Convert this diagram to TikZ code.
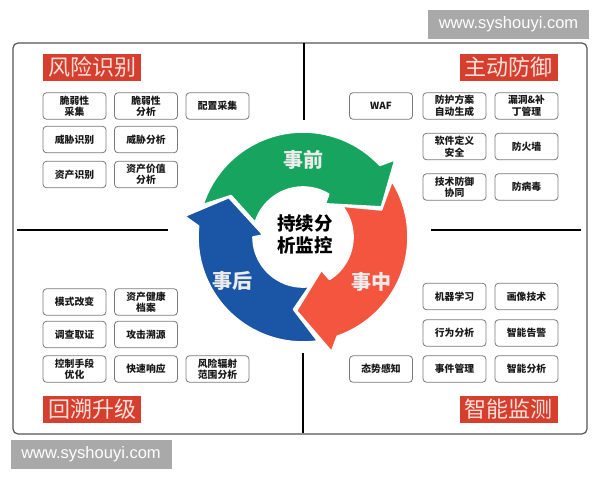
\documentclass[tikz,border=0pt]{standalone}
\usepackage{fontspec}
\setmainfont{Noto Sans CJK SC}
\newfontfamily\wmfont{Liberation Sans}
\definecolor{ringgreen}{HTML}{17A45E}
\definecolor{ringred}{HTML}{F4553E}
\definecolor{ringblue}{HTML}{1B55A5}
\definecolor{titlered}{HTML}{D63F2D}
\definecolor{titletext}{HTML}{FCE0DB}
\definecolor{boxgray}{HTML}{7A7A7A}
\definecolor{wmgray}{HTML}{A9A9A9}
\definecolor{framegray}{HTML}{555555}
\tikzset{
  itembox/.style={draw=boxgray, line width=0.8pt, rounded corners=3.5pt,
    minimum width=63pt, minimum height=26.5pt, inner sep=1pt, align=center,
    fill=white, text=black!90,
    font=\bfseries\fontsize{9.8}{11.5}\selectfont},
  titlebox/.style={fill=titlered, text=titletext, minimum width=98pt,
    minimum height=27pt, inner sep=0pt, font=\fontsize{22}{22}\selectfont},
  ringshape/.style={draw=white, line width=1.6pt, line join=round},
  ringlabel/.style={text=white!92!black, font=\bfseries\fontsize{20}{20}\selectfont, inner sep=0pt},
  divider/.style={draw=black, line width=1.3pt},
  watermark/.style={fill=wmgray, text=white, minimum width=161pt,
    minimum height=29pt, inner sep=0pt, font=\wmfont\fontsize{16.5}{16.5}\selectfont}
}
\begin{document}
\begin{tikzpicture}[x=1pt,y=-1pt]
\useasboundingbox (0,0) rectangle (600,480);
\fill[white] (0,0) rectangle (600,480);

% frame
\draw[framegray, line width=1.2pt, rounded corners=5pt] (13,43) rectangle (587,434);

% dividers
\draw[divider] (17,230) -- (168,230);
\draw[divider] (431,230) -- (581,230);
\draw[divider] (304,43) -- (304,120);
\draw[divider] (303,353) -- (303,433);

% ring
\begin{scope}[shift={(303,237)}, y=1pt]
\path[fill=ringred, ringshape]
  (32:105) arc[start angle=32, end angle=-71, radius=105] -- (-76:118) -- (-95:74)
  -- (-61:38) -- (-58:50) arc[start angle=-58, end angle=38, radius=50] -- (19:83) -- cycle;
\path[fill=ringgreen, ringshape]
  (162:105) arc[start angle=162, end angle=43, radius=105] -- (40:120) -- (21:84)
  -- (56:40) -- (59:50) arc[start angle=59, end angle=163, radius=50] -- (150:83) -- cycle;
\path[fill=ringblue, ringshape]
  (-82:105) arc[start angle=-82, end angle=-186, radius=105] -- (-190:120) -- (-208:84)
  -- (-183:40) -- (-180:50) arc[start angle=-180, end angle=-83, radius=50] -- (-97.5:73) -- cycle;
\end{scope}

\node[ringlabel] (pre) at (303,160) {事前};
\node[ringlabel] (mid) at (371,282) {事中};
\node[ringlabel] (post) at (232,281) {事后};
\node[font=\bfseries\fontsize{18.5}{22}\selectfont, align=center, inner sep=0pt] (core) at (305,234) {持续分\\析监控};

% titles
\node[titlebox] (t1) at (92,67.5) {风险识别};
\node[titlebox] (t2) at (508.5,67.5) {主动防御};
\node[titlebox] (t3) at (92,409.5) {回溯升级};
\node[titlebox] (t4) at (508.5,409.5) {智能监测};

% top-left
\node[itembox] (a1) at (74.5,106) {脆弱性\\采集};
\node[itembox] (a2) at (146,106) {脆弱性\\分析};
\node[itembox] (a3) at (217.5,106) {配置采集};
\node[itembox] (a4) at (74.5,139.5) {威胁识别};
\node[itembox] (a5) at (146,139.5) {威胁分析};
\node[itembox] (a6) at (74.5,174.5) {资产识别};
\node[itembox] (a7) at (146,174.5) {资产价值\\分析};

% top-right
\node[itembox] (b1) at (381,106) {WAF};
\node[itembox] (b2) at (454.5,106) {防护方案\\自动生成};
\node[itembox] (b3) at (526.5,106) {漏洞\&补\\丁管理};
\node[itembox] (b4) at (454.5,146.5) {软件定义\\安全};
\node[itembox] (b5) at (526.5,146.5) {防火墙};
\node[itembox] (b6) at (454.5,187) {技术防御\\协同};
\node[itembox] (b7) at (526.5,187) {防病毒};

% bottom-left
\node[itembox] (c1) at (74.5,302) {模式改变};
\node[itembox] (c2) at (146,302) {资产健康\\档案};
\node[itembox] (c3) at (74.5,334.5) {调查取证};
\node[itembox] (c4) at (146,334.5) {攻击溯源};
\node[itembox] (c5) at (74.5,369) {控制手段\\优化};
\node[itembox] (c6) at (146,369) {快速响应};
\node[itembox] (c7) at (217.5,369) {风险辐射\\范围分析};

% bottom-right
\node[itembox] (d1) at (454.5,296.5) {机器学习};
\node[itembox] (d2) at (526.5,296.5) {画像技术};
\node[itembox] (d3) at (454.5,333) {行为分析};
\node[itembox] (d4) at (526.5,333) {智能告警};
\node[itembox] (d5) at (381,369) {态势感知};
\node[itembox] (d6) at (454.5,369) {事件管理};
\node[itembox] (d7) at (526.5,369) {智能分析};

% watermarks
\node[watermark] (wm1) at (508.5,24.5) {www.syshouyi.com};
\node[watermark] (wm2) at (91,454.5) {www.syshouyi.com};
\end{tikzpicture}
\end{document}
